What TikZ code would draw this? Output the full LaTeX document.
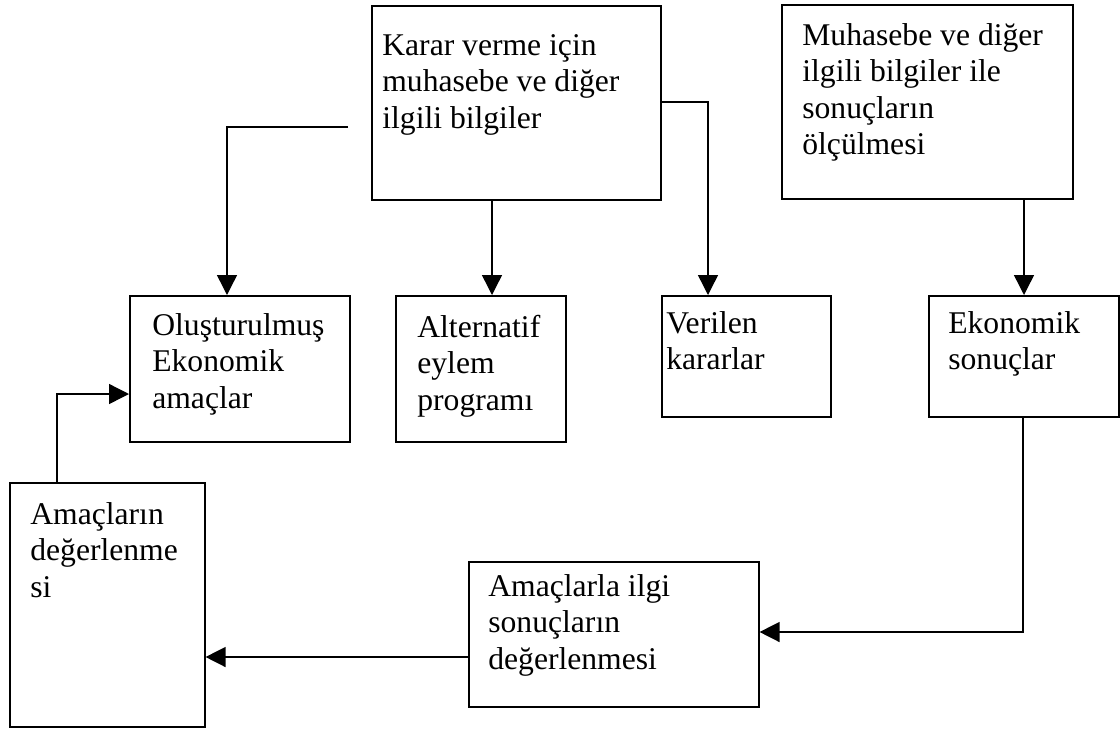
\documentclass[tikz,border=0pt]{standalone}
\usepackage{fontspec}
\setmainfont{Liberation Serif}
\usetikzlibrary{arrows.meta,positioning,calc}

\newcommand{\yazi}[1]{\begin{tabular}[t]{@{}l@{}}#1\end{tabular}}

\tikzset{
  kutu/.style={draw, line width=0.9pt, inner sep=0pt, anchor=north west},
  metin/.style={anchor=base west, inner sep=0pt,
                font=\fontsize{18}{20.8}\selectfont},
  ok/.style={line width=0.8pt, -{Triangle[length=0.4cm, width=0.4cm]}}
}

\begin{document}
\begin{tikzpicture}[x=0.02cm, y=-0.02cm]
  % Define dimensions
  \def\px{0.02cm}
  \useasboundingbox (0,0) rectangle (1120,728);

  % Boxes
  \node[kutu, minimum width=289*\px, minimum height=194*\px] (A) at (371,5) {};
  \node[kutu, minimum width=291*\px, minimum height=194*\px] (B) at (781,4) {};
  \node[kutu, minimum width=220*\px, minimum height=146*\px] (C) at (129,295) {};
  \node[kutu, minimum width=170*\px, minimum height=146*\px] (D) at (395,295) {};
  \node[kutu, minimum width=169*\px, minimum height=121*\px] (E) at (661,295) {};
  \node[kutu, minimum width=190*\px, minimum height=121*\px] (F) at (928,295) {};
  \node[kutu, minimum width=195*\px, minimum height=244*\px] (G) at (9,482) {};
  \node[kutu, minimum width=290*\px, minimum height=145*\px] (H) at (468,561) {};

  % Texts
  \node[metin] (tA) at ($(A.north west)+(11,50)$) {\yazi{Karar verme için\\muhasebe ve diğer\\ilgili bilgiler}};
  \node[metin] (tB) at ($(B.north west)+(21,41)$) {\yazi{Muhasebe ve diğer\\ilgili bilgiler ile\\sonuçların\\ölçülmesi}};
  \node[metin] (tC) at ($(C.north west)+(23,40)$) {\yazi{Oluşturulmuş\\Ekonomik\\amaçlar}};
  \node[metin] (tD) at ($(D.north west)+(22,42)$) {\yazi{Alternatif\\eylem\\programı}};
  \node[metin] (tE) at ($(E.north west)+(5,38)$) {\yazi{Verilen\\kararlar}};
  \node[metin] (tF) at ($(F.north west)+(20,38)$) {\yazi{Ekonomik\\sonuçlar}};
  \node[metin] (tG) at ($(G.north west)+(21,42)$) {\yazi{Amaçların\\değerlenme\\si}};
  \node[metin] (tH) at ($(H.north west)+(20,35)$) {\yazi{Amaçlarla ilgi\\sonuçların\\değerlenmesi}};

  % Arrows
  \coordinate (a1) at (348,127);
  \draw[ok] (a1) -| (C.north -| 227,0);
  \draw[ok] (A.south -| 492,0) -- (D.north -| 492,0);
  \draw[ok] (A.east |- 0,102) -| (E.north -| 708,0);
  \draw[ok] (B.south -| 1024,0) -- (F.north -| 1024,0);
  \draw[ok] (F.south -| 1023,0) |- (H.east |- 0,632);
  \draw[ok] (H.west |- 0,657) -- (G.east |- 0,657);
  \draw[ok] (G.north -| 57,0) |- (C.west |- 0,394);

\end{tikzpicture}
\end{document}
